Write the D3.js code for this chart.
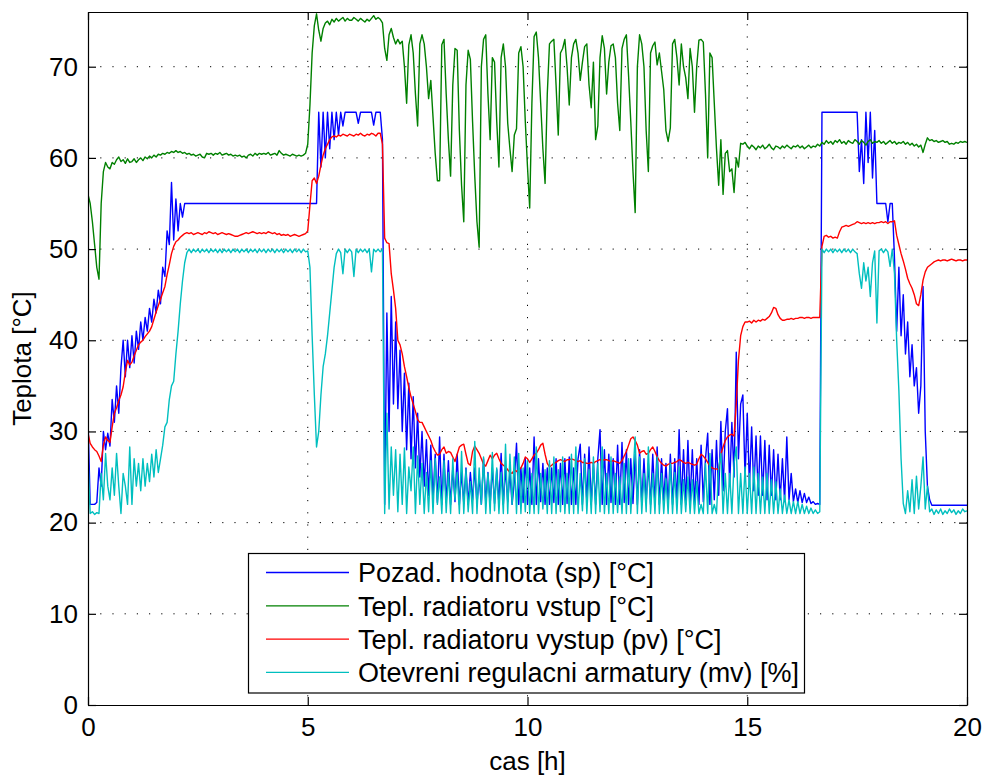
<!DOCTYPE html>
<html>
<head>
<meta charset="utf-8">
<script src="https://cdn.jsdelivr.net/npm/d3@7"></script>
<style>
    body { margin: 0; background: #fff; }
    svg { display: block; font-family: "Liberation Sans", Arial, Helvetica, sans-serif; }
    .axis text { font-size: 26px; fill: #000; }
    .axis path, .axis line { stroke: #000; stroke-width: 1.2; }
    .grid line { stroke: #000; stroke-width: 1; stroke-dasharray: 1.2, 11; }
    .axis-label { font-size: 26px; fill: #000; }
    .legend text { font-size: 27px; fill: #000; }
</style>
</head>
<body>
<div id="chart-area"><svg></svg></div>
<script>
const chartSize = { width: 982, height: 776 };
const margin = { left: 88, right: 15, top: 12, bottom: 71 };
const width = chartSize.width - margin.left - margin.right;
const height = chartSize.height - margin.top - margin.bottom;

// samples every 0.05 h, from 0 to 20 h (401 values per series)
const sampleStep = 0.05;
const xDomain = [0, 20];
const yDomain = [0, 76];
const xTicks = [0, 5, 10, 15, 20];
const yTicks = [0, 10, 20, 30, 40, 50, 60, 70];

const seriesNames = [
    'Pozad. hodnota (sp) [°C]',
    'Tepl. radiatoru vstup [°C]',
    'Tepl. radiatoru vystup (pv) [°C]',
    'Otevreni regulacni armatury (mv) [%]'
];
const seriesColors = ['#0000ff', '#008000', '#ff0000', '#00bfbf'];

const setpoint = [
    31.5, 22.0, 22.0, 22.0, 22.2, 26.0, 24.0, 30.0, 28.0, 29.8, 28.4, 33.5, 31.0, 35.0, 32.0, 37.0, 40.0, 36.0, 40.0, 37.0,
    40.5, 37.5, 41.0, 39.0, 42.0, 40.0, 42.5, 41.0, 43.5, 42.0, 44.5, 43.0, 45.5, 44.0, 48.0, 47.0, 52.0, 50.5, 57.3, 51.0,
    55.5, 52.0, 55.0, 53.5, 55, 55, 55, 55, 55, 55, 55, 55, 55, 55, 55, 55, 55, 55, 55, 55,
    55, 55, 55, 55, 55, 55, 55, 55, 55, 55, 55, 55, 55, 55, 55, 55, 55, 55, 55, 55,
    55, 55, 55, 55, 55, 55, 55, 55, 55, 55, 55, 55, 55, 55, 55, 55, 55, 55, 55, 55,
    55, 55, 55, 55, 55, 65, 59, 65, 60, 65, 61, 65, 62, 65, 62.5, 65, 63.5, 65, 65, 65,
    65, 65, 65, 63.8, 65, 65, 65, 65, 65, 65, 63.6, 65, 65, 65, 62, 22, 43, 30, 44.8, 33,
    42, 32.5, 38.9, 30, 36.4, 28, 35.3, 27, 33.8, 26, 32, 25, 30, 24, 29.1, 23, 28.5, 22.5, 27.5, 22.2,
    29.4, 22, 27.5, 22.2, 26.8, 22, 26, 22.3, 27.5, 22, 25.5, 22.1, 26, 22, 25.5, 22.5, 26, 22, 25, 22,
    27, 22.2, 25.5, 22, 26, 22.1, 25.8, 22, 27.6, 22, 26, 22.3, 25.5, 22, 24.5, 28.7, 22, 26, 22.2, 27,
    22, 26, 22, 29.4, 22, 27, 22.3, 26.5, 22, 26, 22, 26, 22.2, 27, 22, 26.5, 22, 27, 22.1, 27.2,
    22, 26, 22, 27, 28.6, 22, 27.5, 22.3, 28.3, 22, 26.5, 22, 27, 30.2, 22, 28, 22, 27.5, 22.2, 27,
    22, 28.5, 22, 28.8, 22.2, 28, 22, 27, 22.1, 27.5, 22, 28, 22, 27, 22.2, 26.5, 22, 27.5, 22, 28.3,
    22, 27, 22.3, 26.5, 22, 27.5, 22, 27, 22.2, 30.2, 22, 28, 22, 29, 22.2, 28, 22, 27, 22, 28.5,
    22.3, 27, 29.8, 22, 28, 22.5, 29, 23, 31.1, 23.5, 30, 32.5, 24, 31, 25, 38.7, 27, 33, 34, 25,
    32, 24, 30.5, 23.5, 29.5, 23, 29.5, 23, 29, 22.5, 28.5, 23, 28, 22.5, 27.5, 22.5, 27, 22.3, 29.4, 22.5,
    25.4, 22.3, 23.7, 22.2, 23.5, 22.2, 23.2, 22.2, 22.8, 22.1, 22.3, 22, 22.1, 22, 65, 65, 65, 65, 65, 65,
    65, 65, 65, 65, 65, 65, 65, 65, 65, 65, 65, 58.5, 62, 57.2, 65, 59.5, 65, 57.8, 63, 55,
    55, 55, 55, 55, 53, 55, 55, 49, 41, 48, 40.5, 45, 38.5, 42, 36, 39.5, 35, 37, 32, 35,
    45.9, 30, 24, 22.5, 21.9, 21.9, 21.9, 21.9, 21.9, 21.9, 21.9, 21.9, 21.9, 21.9, 21.9, 21.9, 21.9, 21.9, 21.9, 21.9,
    21.9
];

const inletTemp = [
    56.0, 55.0, 53.0, 50.5, 48.0, 46.7, 55.0, 58.5, 59.5, 59.0, 58.8, 59.5, 59.3, 59.8, 60.1, 59.6, 59.8, 59.4, 59.9, 59.5,
    59.6, 59.9, 59.5, 59.8, 60.0, 59.7, 60.1, 59.9, 60.2, 60.0, 60.3, 60.1, 60.4, 60.3, 60.5, 60.4, 60.6, 60.5, 60.7, 60.6,
    60.8, 60.6, 60.7, 60.5, 60.6, 60.4, 60.5, 60.3, 60.4, 60.2, 60.3, 60.4, 60.1, 60.0, 60.5, 60.4, 60.5, 60.3, 60.5, 60.4,
    60.6, 60.3, 60.4, 60.5, 60.3, 60.4, 60.2, 60.3, 60.2, 60.3, 60.1, 60.2, 60.0, 60.3, 60.4, 60.2, 60.5, 60.3, 60.5, 60.4,
    60.5, 60.4, 60.6, 60.3, 60.4, 60.5, 60.3, 60.8, 60.5, 60.3, 60.4, 60.3, 60.2, 60.4, 60.3, 60.2, 60.3, 60.2, 60.3, 60.5,
    61.5, 65.8, 71.5, 74.5, 75.8, 74.0, 72.8, 74.2, 74.8, 75.0, 74.6, 75.2, 74.9, 75.3, 75.0, 75.2, 75.4, 75.0, 75.3, 75.1,
    75.1, 75.4, 75.2, 75.0, 75.3, 75.1, 74.9, 75.2, 75.0, 75.3, 75.6, 75.2, 75.4, 75.2, 74.8, 72.0, 70.7, 73.5, 74.2, 73.2,
    72.5, 73.0, 72.5, 72.8, 70.0, 66.0, 72.4, 73.5, 71.5, 67.0, 63.5, 72.5, 73.5, 72.5, 70.0, 66.5, 68.5, 64.5, 60.5, 57.5,
    57.5, 72.4, 73.0, 67.0, 62.0, 58.0, 68.0, 72.0, 71.8, 63.0, 57.0, 53.0, 68.0, 71.8, 70.8, 64.0, 58.0, 53.0, 50.2, 70.0,
    73.0, 73.5, 67.0, 62.0, 71.0, 70.5, 64.0, 59.0, 71.0, 72.5, 70.0, 63.8, 61.0, 58.5, 62.5, 63.2, 71.5, 72.2, 70.0, 64.0,
    59.0, 54.5, 66.0, 73.3, 73.8, 71.0, 66.0, 61.0, 57.2, 67.0, 72.5, 72.8, 73.0, 68.0, 62.5, 71.5, 72.0, 73.0, 70.0, 65.8,
    71.0, 72.5, 73.0, 71.5, 68.5, 70.5, 72.2, 72.5, 68.0, 65.5, 70.5, 62.0, 63.5, 71.0, 73.4, 72.0, 67.0, 70.5, 72.3, 72.5,
    71.0, 66.0, 63.0, 72.0, 73.0, 73.5, 69.0, 64.0, 58.5, 54.0, 70.0, 73.5, 72.5, 70.0, 63.0, 58.5, 71.5, 72.3, 72.7, 70.2,
    71.5, 69.5, 67.5, 63.0, 61.8, 63.3, 72.5, 73.0, 71.0, 68.0, 72.5, 70.0, 68.8, 66.5, 72.0, 70.0, 65.0, 70.0, 72.9, 73.0,
    72.7, 67.0, 60.0, 71.5, 71.0, 66.0, 61.0, 57.0, 62.0, 56.0, 60.5, 60.8, 58.5, 58.8, 56.2, 60.0, 59.0, 61.6, 61.5, 61.7,
    61.3, 61.0, 61.4, 61.2, 60.9, 61.3, 61.1, 61.4, 61.0, 61.2, 61.5, 61.1, 60.9, 61.3, 61.2, 61.0, 61.3, 61.1, 61.4, 61.2,
    61.0, 61.3, 61.2, 61.4, 61.1, 61.3, 61.0, 61.2, 61.4, 61.1, 61.3, 61.2, 61.5, 61.3, 61.7, 61.5, 61.9, 61.6, 61.8, 61.5,
    61.9, 61.7, 62.0, 61.6, 61.8, 61.5, 61.9, 61.7, 61.6, 62.0, 61.8, 61.5, 61.9, 61.7, 61.4, 61.8, 62.0, 61.6, 61.8, 61.7,
    61.9, 61.6, 61.8, 61.5, 61.7, 61.9, 61.6, 61.8, 61.5, 61.7, 61.6, 61.8, 61.5, 61.7, 61.4, 61.6, 61.3, 61.5, 61.2, 61.4,
    60.6, 61.5, 62.2, 61.9, 62.0, 61.8, 61.9, 61.7, 61.8, 61.9, 61.7, 61.8, 61.5, 61.6, 61.5, 61.7, 61.6, 61.8, 61.7, 61.8,
    61.7
];

const outletTemp = [
    29.8, 28.7, 28.3, 28.0, 27.8, 27.3, 26.7, 28.5, 29.4, 29.0, 28.8, 30.5, 32.0, 32.6, 33.4, 34.0, 34.9, 36.5, 37.8, 37.3,
    37.6, 38.3, 38.9, 39.5, 39.8, 40.0, 40.4, 40.7, 41.0, 41.5, 42.3, 43.1, 43.8, 44.5, 45.2, 45.9, 47.2, 48.3, 49.5, 50.3,
    50.8, 51.0, 51.3, 51.5, 51.7, 51.8, 51.7, 51.8, 51.6, 51.7, 51.8, 51.7, 51.6, 51.8, 51.7, 51.9, 51.8, 51.7, 51.8, 51.6,
    51.7, 51.8, 51.7, 51.6, 51.7, 51.6, 51.5, 51.4, 51.4, 51.5, 51.6, 51.7, 51.8, 51.7, 51.8, 51.9, 51.8, 51.7, 51.8, 51.7,
    51.8, 51.7, 51.9, 51.8, 51.7, 51.8, 51.6, 51.7, 51.5, 51.6, 51.5, 51.6, 51.4, 51.5, 51.6, 51.5, 51.4, 51.5, 51.6, 51.7,
    52.0, 54.8, 57.5, 57.8, 57.2, 58.0, 59.2, 60.3, 61.0, 61.5, 62.0, 62.3, 62.4, 62.3, 62.5, 62.4, 62.6, 62.5, 62.4, 62.6,
    62.5, 62.4, 62.6, 62.5, 62.7, 62.5, 62.4, 62.6, 62.5, 62.7, 62.6, 62.4, 62.7, 62.7, 61.5, 51.2, 50.7, 50.6, 47.3, 45.5,
    43.5, 40.0, 39.5, 38.5, 37.1, 36.0, 34.8, 33.8, 33.0, 32.2, 31.3, 31.0, 31.0, 30.5, 30.0, 29.5, 29.0, 28.3, 27.8, 27.4,
    27.5, 28.0, 28.3, 27.6, 27.8, 27.7, 27.2, 26.7, 27.5, 28.3, 28.5, 28.6, 27.5, 26.5, 26.3, 27.8, 28.4, 28.0, 27.6, 27.0,
    26.4, 26.2, 26.8, 27.4, 27.0, 27.4, 27.6, 27.0, 26.5, 26.3, 26.1, 25.8, 25.5, 25.4, 25.8, 25.6, 25.8, 26.0, 26.5, 27.2,
    27.0, 26.6, 27.0, 27.4, 27.6, 28.0, 28.5, 28.7, 27.5, 26.5, 26.1, 26.3, 26.5, 26.6, 26.8, 26.9, 26.8, 26.7, 26.9, 26.9,
    27.0, 26.9, 26.8, 26.7, 26.8, 26.6, 26.6, 26.5, 26.5, 26.6, 26.5, 26.7, 26.8, 26.9, 26.8, 26.9, 26.9, 26.8, 26.7, 26.8,
    26.7, 26.6, 26.5, 26.8, 27.3, 27.8, 28.5, 29.2, 29.4, 29.0, 28.5, 27.6, 27.8, 27.9, 27.5, 27.6, 28.0, 28.3, 27.8, 27.2,
    26.8, 26.5, 26.3, 26.2, 26.4, 26.5, 26.5, 26.6, 26.7, 26.9, 26.8, 26.6, 26.5, 26.6, 26.5, 26.4, 26.3, 26.4, 27.0, 27.5,
    27.3, 27.0, 26.6, 26.2, 26.0, 25.9, 25.9, 25.8, 27.5, 28.3, 29.0, 29.4, 29.6, 29.7, 29.5, 33.0, 37.8, 40.5, 41.5, 42.0,
    42.0, 42.1, 41.9, 42.2, 42.0, 42.2, 42.1, 42.3, 42.2, 42.4, 42.6, 43.0, 43.6, 43.5, 42.8, 42.4, 42.2, 42.2, 42.3, 42.3,
    42.4, 42.3, 42.4, 42.4, 42.5, 42.5, 42.4, 42.5, 42.5, 42.4, 42.5, 42.5, 42.5, 42.5, 50.3, 51.4, 51.5, 51.3, 51.4, 51.2,
    51.3, 51.2, 51.9, 52.4, 52.5, 52.6, 52.5, 52.6, 52.7, 52.8, 53.0, 52.9, 52.8, 52.9, 52.8, 52.9, 52.8, 52.9, 52.8, 52.9,
    52.9, 53.0, 52.9, 53.0, 52.8, 53.0, 53.0, 53.1, 51.5, 50.5, 49.5, 48.7, 47.8, 46.8, 46.2, 45.7, 45.0, 44.0, 43.8, 45.0,
    46.6, 47.5, 48.0, 48.2, 48.4, 48.6, 48.7, 48.8, 48.7, 48.8, 48.8, 48.7, 48.8, 48.9, 48.8, 48.7, 48.8, 48.8, 48.7, 48.8,
    48.8
];

const valveOpening = [
    27.0, 21.0, 21.2, 20.9, 21.1, 21.0, 25.4, 22.5, 27.6, 24.0, 22.5, 26.0, 23.0, 27.6, 24.0, 21.0, 25.4, 24.0, 22.0, 28.3,
    22.0, 27.0, 24.0, 26.5, 23.5, 27.0, 24.0, 26.5, 24.5, 27.5, 25.0, 28.0, 25.5, 27.0, 28.5, 30.5, 31.0, 33.5, 35.0, 35.5,
    38.5, 41.0, 44.0, 46.5, 48.5, 49.6, 50.0, 49.6, 50.0, 49.7, 50.0, 49.6, 50.0, 49.7, 50.0, 49.6, 50.0, 49.7, 50.0, 49.6,
    50.0, 49.6, 50.0, 49.7, 50.0, 49.6, 50.0, 49.7, 50.0, 49.6, 50.0, 49.7, 50.0, 49.6, 50.0, 49.7, 50.0, 49.6, 50.0, 49.7,
    50.0, 49.6, 50.0, 49.7, 50.0, 49.6, 50.0, 49.7, 50.0, 49.6, 50.0, 49.7, 50.0, 49.6, 50.0, 49.7, 50.0, 49.6, 50.0, 49.7,
    49.8, 48.0, 40.5, 34.0, 28.3, 30.0, 34.0, 37.1, 38.5, 40.5, 43.0, 45.5, 48.0, 49.5, 50.0, 49.6, 47.3, 50.0, 49.6, 50.0,
    49.7, 47.0, 50.0, 49.6, 50.0, 49.7, 50.0, 49.6, 50.0, 47.5, 50.0, 49.7, 50.0, 49.7, 50.0, 21.0, 32.0, 21.5, 28.3, 23.0,
    28.0, 21.2, 27.5, 22.0, 28.2, 21.0, 26.1, 23.5, 28.3, 21.0, 27.3, 22.0, 26.5, 21.0, 25.5, 21.2, 26.8, 21.0, 27.0, 22.0,
    25.0, 21.0, 26.8, 21.1, 25.5, 21.0, 27.0, 22.5, 25.5, 21.0, 27.8, 21.0, 25.8, 21.2, 24.5, 21.0, 28.9, 21.0, 26.0, 22.0,
    27.2, 21.0, 25.4, 21.0, 27.7, 21.3, 26.0, 21.0, 25.5, 21.0, 28.6, 21.0, 27.5, 22.0, 27.2, 21.0, 27.6, 21.0, 26.0, 21.2,
    26.8, 21.0, 25.4, 21.0, 28.3, 21.0, 25.4, 21.5, 25.8, 21.0, 26.8, 21.0, 27.2, 21.0, 25.8, 21.2, 27.2, 21.0, 25.4, 21.0,
    27.5, 21.0, 28.3, 21.0, 25.4, 21.3, 27.0, 21.0, 25.8, 21.0, 27.2, 21.0, 26.5, 21.2, 28.3, 21.0, 25.4, 21.0, 27.2, 21.0,
    25.4, 21.1, 25.0, 21.0, 26.5, 21.0, 27.0, 21.0, 25.4, 29.4, 21.0, 27.2, 21.0, 25.4, 21.2, 28.3, 21.0, 25.4, 21.0, 27.2,
    21.0, 25.4, 21.0, 24.8, 21.0, 26.5, 21.0, 25.5, 21.0, 26.1, 21.0, 24.7, 21.2, 25.0, 21.0, 24.7, 21.0, 24.5, 21.0, 22.0,
    21.0, 26.5, 21.0, 27.6, 21.0, 22.0, 21.0, 26.0, 27.6, 21.0, 25.4, 21.0, 25.4, 21.0, 26.5, 28.3, 21.0, 25.4, 21.0, 26.1,
    21.0, 25.4, 21.0, 26.1, 21.0, 25.4, 21.0, 25.0, 21.0, 25.4, 21.0, 24.7, 21.0, 24.5, 21.0, 23.7, 21.0, 23.0, 21.0, 22.5,
    21.0, 22.3, 21.0, 22.3, 21.0, 22.0, 21.0, 21.8, 21.0, 21.6, 21.0, 21.4, 21.0, 21.2, 50.0, 49.6, 50.0, 49.7, 50.0, 49.6,
    50.0, 49.7, 50.0, 49.6, 50.0, 49.7, 50.0, 49.6, 50.0, 49.7, 49.5, 47.3, 45.7, 48.5, 46.5, 48.0, 44.8, 48.5, 49.8, 41.9,
    49.8, 50.0, 49.6, 50.0, 49.7, 48.1, 50.0, 47.3, 40.0, 34.5, 27.0, 22.1, 21.0, 23.5, 21.2, 24.7, 21.0, 25.1, 21.5, 24.0,
    27.2, 21.5, 24.0, 21.2, 21.5, 20.9, 21.4, 21.0, 21.5, 20.9, 21.3, 21.0, 21.5, 21.1, 21.4, 20.9, 21.3, 21.0, 21.5, 21.2,
    21.3
];

const allSeries = [setpoint, inletTemp, outletTemp, valveOpening];

const drawChart = () => {
    const svg = d3.select('#chart-area svg')
        .attr('width', chartSize.width)
        .attr('height', chartSize.height);

    svg.append('rect')
        .attr('width', chartSize.width)
        .attr('height', chartSize.height)
        .attr('fill', '#fff');

    const g = svg.append('g')
        .attr('transform', `translate(${margin.left},${margin.top})`);

    const x = d3.scaleLinear().domain(xDomain).range([0, width]);
    const y = d3.scaleLinear().domain(yDomain).range([height, 0]);

    g.append('clipPath')
        .attr('id', 'plot-clip')
        .append('rect')
        .attr('width', width)
        .attr('height', height);

    // dotted grid
    const grid = g.append('g').attr('class', 'grid');
    grid.selectAll('.gx')
        .data(xTicks.filter(t => t > xDomain[0] && t < xDomain[1]))
        .enter().append('line')
        .attr('x1', d => x(d)).attr('x2', d => x(d))
        .attr('y1', 0).attr('y2', height);
    grid.selectAll('.gy')
        .data(yTicks.filter(t => t > yDomain[0]))
        .enter().append('line')
        .attr('x1', 0).attr('x2', width)
        .attr('y1', d => y(d)).attr('y2', d => y(d));

    const line = d3.line()
        .x((v, i) => x(i * sampleStep))
        .y(v => y(v));

    g.append('g')
        .attr('clip-path', 'url(#plot-clip)')
        .selectAll('.series')
        .data(allSeries)
        .enter()
        .append('path')
        .attr('class', 'series')
        .attr('fill', 'none')
        .attr('stroke', (d, i) => seriesColors[i])
        .attr('stroke-width', 1.4)
        .attr('stroke-linejoin', 'round')
        .attr('d', line);

    // axes, ticks pointing inward on all four sides
    g.append('g')
        .attr('class', 'axis')
        .attr('transform', `translate(0,${height})`)
        .call(d3.axisBottom(x).tickValues(xTicks).tickSize(-8).tickSizeOuter(0).tickPadding(13));
    g.append('g')
        .attr('class', 'axis')
        .call(d3.axisTop(x).tickValues(xTicks).tickSize(-8).tickSizeOuter(0).tickFormat(''));
    g.append('g')
        .attr('class', 'axis')
        .call(d3.axisLeft(y).tickValues(yTicks).tickSize(-8).tickSizeOuter(0).tickPadding(10));
    g.append('g')
        .attr('class', 'axis')
        .attr('transform', `translate(${width},0)`)
        .call(d3.axisRight(y).tickValues(yTicks).tickSize(-8).tickSizeOuter(0).tickFormat(''));

    svg.append('text')
        .attr('class', 'axis-label')
        .attr('x', margin.left + width / 2)
        .attr('y', 770)
        .attr('text-anchor', 'middle')
        .text('cas [h]');

    svg.append('text')
        .attr('class', 'axis-label')
        .attr('transform', `translate(31,${margin.top + height / 2}) rotate(-90)`)
        .attr('text-anchor', 'middle')
        .text('Teplota [°C]');

    // legend
    const legend = svg.append('g').attr('class', 'legend');
    legend.append('rect')
        .attr('x', 248.5).attr('y', 553.5)
        .attr('width', 556).attr('height', 139.5)
        .attr('fill', '#fff')
        .attr('stroke', '#000')
        .attr('stroke-width', 1.2);

    const entry = legend.selectAll('.entry')
        .data(seriesNames)
        .enter()
        .append('g')
        .attr('class', 'entry')
        .attr('transform', (d, i) => `translate(0,${572.5 + i * 33.3})`);
    entry.append('line')
        .attr('x1', 266).attr('x2', 349)
        .attr('stroke', (d, i) => seriesColors[i])
        .attr('stroke-width', 1.3);
    entry.append('text')
        .attr('x', 358)
        .attr('dy', '0.36em')
        .text(d => d);
}

window.onload = drawChart;
</script>
</body>
</html>
